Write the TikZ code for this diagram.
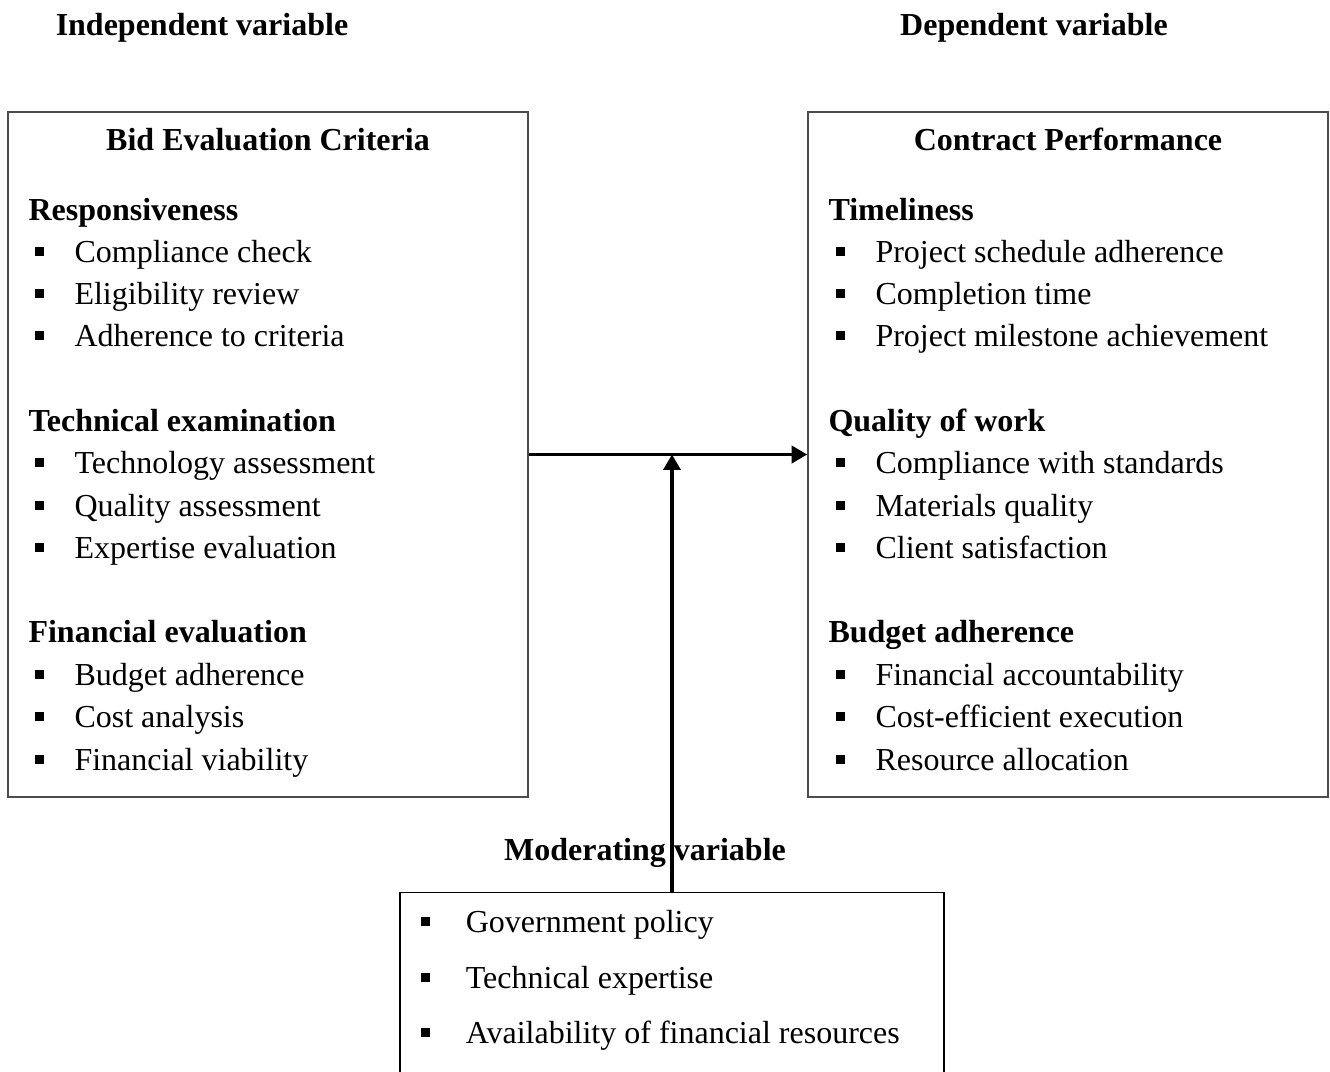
\documentclass[tikz,border=0pt]{standalone}
\usepackage{fontspec}
\setmainfont{Liberation Serif}
\usetikzlibrary{arrows.meta}
\newcommand{\sqbox}{\rlap{\rule[2.2pt]{3.4pt}{3.4pt}}\hspace{15pt}}

\begin{document}
\begin{tikzpicture}[x=0.375pt,y=-0.375pt,
  font=\fontsize{12pt}{15pt}\selectfont,
  frame/.style={draw=black!70, line width=0.6pt, inner sep=0pt},
  item/.style={anchor=base west, inner sep=0pt},
  head/.style={item, font=\fontsize{12pt}{15pt}\selectfont\bfseries},
  link/.style={line width=1.3pt, -{Triangle[length=5.8pt,width=6.4pt]}}]
\useasboundingbox (0,0) rectangle (1330,1072);
\clip (0,0) rectangle (1330,1072);

% column captions
\node[head, anchor=base] (indep) at (202,35) {Independent variable};
\node[head, anchor=base] (dep) at (1034,35) {Dependent variable};

% the three boxes
\node[frame, minimum width=195pt, minimum height=256.9pt] (bec) at (268,454.5) {};
\node[frame, minimum width=195pt, minimum height=256.9pt] (cp) at (1068,454.5) {};
\node[frame, draw=black, minimum width=204pt, minimum height=85pt] (mod) at (672,1006) {};

% left box
\node[head, anchor=base] (becT) at (268,150) {Bid Evaluation Criteria};
\node[head] (h1) at (28,220) {Responsiveness};
\node[head] (h2) at (28,431) {Technical examination};
\node[head] (h3) at (28,642) {Financial evaluation};
\foreach \yy/\txt/\nm in {262/Compliance check/a1, 304/Eligibility review/a2,
    346/Adherence to criteria/a3, 473/Technology assessment/a4,
    516/Quality assessment/a5, 558/Expertise evaluation/a6,
    685/Budget adherence/a7, 727/Cost analysis/a8, 770/Financial viability/a9}
  \node[item] (\nm) at (34,\yy) {\sqbox\txt};

% right box
\node[head, anchor=base] (cpT) at (1068,150) {Contract Performance};
\node[head] (g1) at (828,220) {Timeliness};
\node[head] (g2) at (828,431) {Quality of work};
\node[head] (g3) at (828,642) {Budget adherence};
\foreach \yy/\txt/\nm in {262/Project schedule adherence/b1, 304/Completion time/b2,
    346/Project milestone achievement/b3, 473/Compliance with standards/b4,
    516/Materials quality/b5, 558/Client satisfaction/b6,
    685/Financial accountability/b7, 727/Cost-efficient execution/b8,
    770/Resource allocation/b9}
  \node[item] (\nm) at (835,\yy) {\sqbox\txt};

% moderating box
\foreach \yy/\txt/\nm in {932/Government policy/c1, 988/Technical expertise/c2,
    1043/Availability of financial resources/c3}
  \node[item] (\nm) at (420,\yy) {\hbox to 17pt{\rule[2.2pt]{3.4pt}{3.4pt}\hfil}\txt};

% arrows
\coordinate (join) at (mod.north |- bec.east);
\draw[link] (bec.east) -- (cp.west);
\draw[link] (mod.north) -- (join);
\node[head, anchor=base] (modT) at (645,860) {Moderating variable};
\end{tikzpicture}
\end{document}
